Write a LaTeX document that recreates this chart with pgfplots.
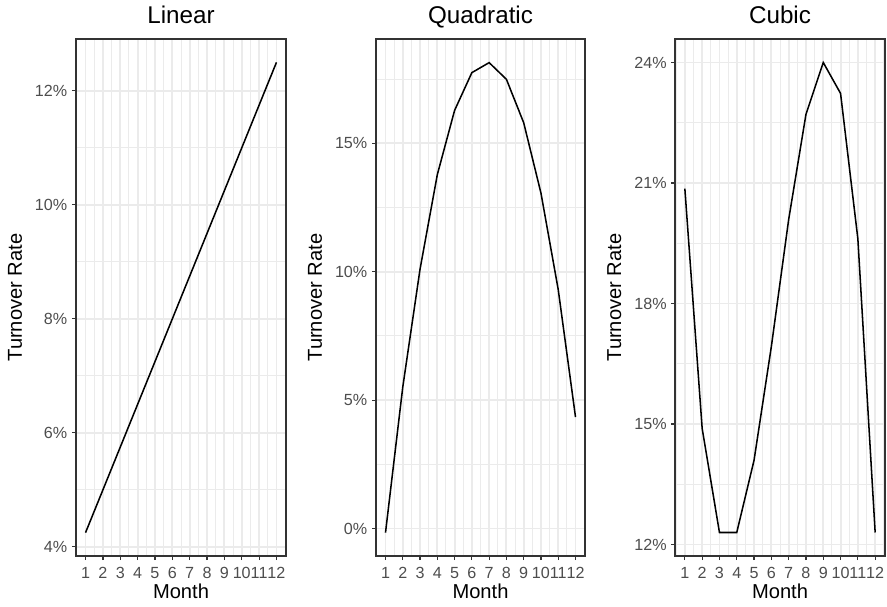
\documentclass[border=0pt]{standalone}
\usepackage{pgfplots}
\pgfplotsset{compat=1.18}
\usepackage{fontspec}
\setmainfont{Liberation Sans}
\definecolor{grey92}{HTML}{EBEBEB}
\definecolor{grey20}{HTML}{333333}
\definecolor{grey30}{HTML}{4D4D4D}
\pgfplotsset{
  panel/.style={
    scale only axis, height=387.75pt, anchor=south west,
    xmin=0.45, xmax=12.55,
    xtick={1,2,3,4,5,6,7,8,9,10,11,12},
    minor xtick={0.5,1.5,2.5,3.5,4.5,5.5,6.5,7.5,8.5,9.5,10.5,11.5,12.5},
    grid=both,
    major grid style={grey92, line width=1.4pt},
    minor grid style={grey92, line width=0.7pt},
    axis line style={grey20, line width=1.3pt},
    tick style={grey20, line width=0.9pt},
    tick align=outside, major tick length=3pt, minor tick length=0pt,
    xtick pos=bottom, ytick pos=left,
    ticklabel style={font=\fontsize{12.1}{14}\selectfont, text=grey30},
    xticklabel style={yshift=-2.2pt},
    label style={font=\fontsize{15.1}{18}\selectfont},
    title style={font=\fontsize{18.15}{22}\selectfont, at={(axis description cs:0.5,1)}, anchor=base, yshift=5.25pt},
    xlabel=Month, ylabel=Turnover Rate,
    x label style={at={(axis description cs:0.5,0)}, anchor=center, yshift=-26.6pt},
    y label style={at={(axis description cs:0,0.5)}, anchor=center, yshift=45.75pt},
    /pgf/number format/assume math mode=true,
  }
}
\begin{document}
\begin{tikzpicture}
\path[use as bounding box] (0,0) rectangle (665.25pt,454.5pt);
\begin{axis}[panel, at={(57pt,37.5pt)}, width=157.5pt,
  title=Linear,
  ymin=3.84, ymax=12.91,
  ytick={4,6,8,10,12}, yticklabels={4\%,6\%,8\%,10\%,12\%},
  minor ytick={5,7,9,11}]
\addplot[black, line width=1.15pt] coordinates {
(1,4.25) (2,5.00) (3,5.75) (4,6.50) (5,7.25) (6,8.00)
(7,8.75) (8,9.50) (9,10.25) (10,11.00) (11,11.75) (12,12.50)};
\end{axis}
\begin{axis}[panel, at={(282pt,37.5pt)}, width=156.75pt,
  title=Quadratic,
  ymin=-1.07, ymax=19.06,
  ytick={0,5,10,15}, yticklabels={0\%,5\%,10\%,15\%},
  minor ytick={2.5,7.5,12.5,17.5}]
\addplot[black, line width=1.15pt] coordinates {
(1,-0.16) (2,5.51) (3,10.1) (4,13.78) (5,16.28) (6,17.75)
(7,18.14) (8,17.49) (9,15.80) (10,13.06) (11,9.3) (12,4.34)};
\end{axis}
\begin{axis}[panel, at={(506.5pt,37.5pt)}, width=157pt,
  title=Cubic,
  ymin=11.715, ymax=24.585,
  ytick={12,15,18,21,24}, yticklabels={12\%,15\%,18\%,21\%,24\%},
  minor ytick={13.5,16.5,19.5,22.5}]
\addplot[black, line width=1.15pt] coordinates {
(1,20.86) (2,14.89) (3,12.30) (4,12.30) (5,14.10) (6,16.93)
(7,20.09) (8,22.71) (9,24.00) (10,23.23) (11,19.61) (12,12.30)};
\end{axis}
\end{tikzpicture}
\end{document}
